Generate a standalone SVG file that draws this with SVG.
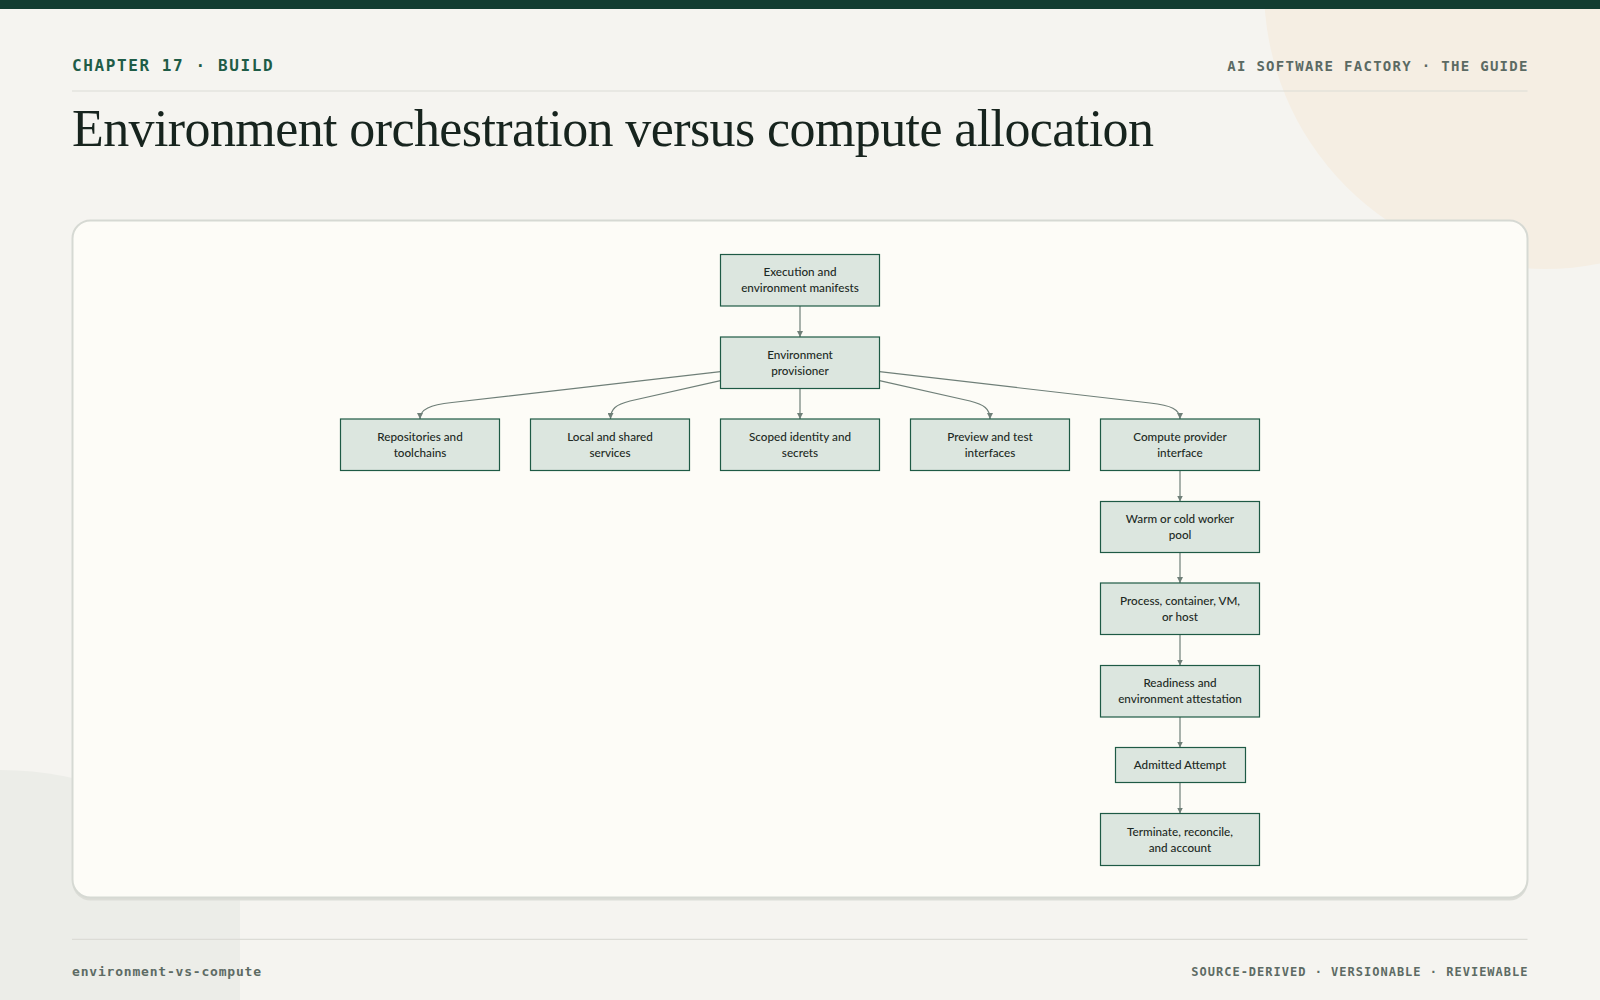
<svg xmlns="http://www.w3.org/2000/svg" width="1600" height="1000" viewBox="0 0 1600 1000">
  <defs>
    <style>
      .node rect { fill: #dce6df; stroke: #1e5a45; stroke-width: 1.2; }
      .node text { font-family: Lato, "Noto Sans", sans-serif; font-size: 11.7px; font-weight: 500; fill: #1d2a24; text-anchor: middle; }
      .edge { fill: none; stroke: #6f7f78; stroke-width: 1.2; marker-end: url(#arrow); }
      .mono { font-family: "DejaVu Sans Mono", "Liberation Mono", monospace; font-weight: 700; }
    </style>
    <marker id="arrow" viewBox="0 0 10 10" refX="10" refY="5" markerWidth="6" markerHeight="6" markerUnits="userSpaceOnUse" orient="auto">
      <path d="M0,0 L10,5 L0,10 z" fill="#6f7f78"/>
    </marker>
    <clipPath id="leftclip"><rect x="0" y="0" width="240" height="1000"/></clipPath>
  </defs>

  <!-- background -->
  <rect x="0" y="0" width="1600" height="1000" fill="#f5f4f0"/>
  <circle cx="1545" cy="-12" r="281" fill="#f5eee3"/>
  <circle cx="0" cy="1100" r="330" fill="#ecede8" clip-path="url(#leftclip)"/>
  <rect x="0" y="0" width="1600" height="9" fill="#133d31"/>

  <!-- header -->
  <text class="mono" x="72" y="71" font-size="16" letter-spacing="1.6" fill="#1f5c47">CHAPTER 17 · BUILD</text>
  <text class="mono" x="1528.8" y="71" font-size="14" letter-spacing="1.3" fill="#5b6a63" text-anchor="end">AI SOFTWARE FACTORY · THE GUIDE</text>
  <line x1="72" y1="91" x2="1527.5" y2="91" stroke="#dcdcd6" stroke-width="1.2"/>
  <text x="72" y="145.5" font-family="'Liberation Serif', 'DejaVu Serif', serif" font-size="52" letter-spacing="-0.6" fill="#17241e">Environment orchestration versus compute allocation</text>

  <!-- card -->
  <rect x="72.5" y="222.5" width="1455" height="678" rx="18" fill="#dcddd7"/>
  <rect x="72.5" y="220.5" width="1455" height="677" rx="18" fill="#fdfcf7" stroke="#d6d9d3" stroke-width="2"/>

  <!-- connectors -->
  <g id="connectors">
    <path class="edge" d="M800,306 L800,337"/>
    <path class="edge" d="M800,388.5 L800,419"/>
    <path class="edge" d="M720.5,371.7 L452,402.5 C430,405 420,409 420,419"/>
    <path class="edge" d="M720.5,380.7 L630,401 C616,404.5 610.5,409 610.5,419"/>
    <path class="edge" d="M879.5,380.7 L970,401 C984,404.5 990,409 990,419"/>
    <path class="edge" d="M879.5,371.7 L1150,403 C1171,405.5 1180,409 1180,419"/>
    <path class="edge" d="M1180,470.5 L1180,501.5"/>
    <path class="edge" d="M1180,552.5 L1180,583"/>
    <path class="edge" d="M1180,634.5 L1180,665.5"/>
    <path class="edge" d="M1180,717 L1180,747.5"/>
    <path class="edge" d="M1180,782.5 L1180,813.5"/>
  </g>

  <!-- nodes -->
  <g id="node-manifests" class="node">
    <rect x="720.5" y="254.5" width="159" height="51.5"/>
    <text x="800" y="276.3">Execution and</text>
    <text x="800" y="292.3">environment manifests</text>
  </g>
  <g id="node-provisioner" class="node">
    <rect x="720.5" y="337" width="159" height="51.5"/>
    <text x="800" y="358.8">Environment</text>
    <text x="800" y="374.8">provisioner</text>
  </g>
  <g id="node-repositories" class="node">
    <rect x="340.5" y="419" width="159" height="51.5"/>
    <text x="420" y="440.8">Repositories and</text>
    <text x="420" y="456.8">toolchains</text>
  </g>
  <g id="node-services" class="node">
    <rect x="530.5" y="419" width="159" height="51.5"/>
    <text x="610" y="440.8">Local and shared</text>
    <text x="610" y="456.8">services</text>
  </g>
  <g id="node-identity" class="node">
    <rect x="720.5" y="419" width="159" height="51.5"/>
    <text x="800" y="440.8">Scoped identity and</text>
    <text x="800" y="456.8">secrets</text>
  </g>
  <g id="node-preview" class="node">
    <rect x="910.5" y="419" width="159" height="51.5"/>
    <text x="990" y="440.8">Preview and test</text>
    <text x="990" y="456.8">interfaces</text>
  </g>
  <g id="node-compute" class="node">
    <rect x="1100.5" y="419" width="159" height="51.5"/>
    <text x="1180" y="440.8">Compute provider</text>
    <text x="1180" y="456.8">interface</text>
  </g>
  <g id="node-pool" class="node">
    <rect x="1100.5" y="501.5" width="159" height="51"/>
    <text x="1180" y="523">Warm or cold worker</text>
    <text x="1180" y="539">pool</text>
  </g>
  <g id="node-process" class="node">
    <rect x="1100.5" y="583" width="159" height="51.5"/>
    <text x="1180" y="604.8">Process, container, VM,</text>
    <text x="1180" y="620.8">or host</text>
  </g>
  <g id="node-readiness" class="node">
    <rect x="1100.5" y="665.5" width="159" height="51.5"/>
    <text x="1180" y="687.3">Readiness and</text>
    <text x="1180" y="703.3">environment attestation</text>
  </g>
  <g id="node-admitted" class="node">
    <rect x="1115.5" y="747.5" width="130" height="35"/>
    <text x="1180" y="769">Admitted Attempt</text>
  </g>
  <g id="node-terminate" class="node">
    <rect x="1100.5" y="813.5" width="159" height="52"/>
    <text x="1180" y="835.5">Terminate, reconcile,</text>
    <text x="1180" y="851.5">and account</text>
  </g>

  <!-- footer -->
  <line x1="72" y1="939.3" x2="1527.5" y2="939.3" stroke="#dcdcd6" stroke-width="1.2"/>
  <text class="mono" x="72" y="976" font-size="13" letter-spacing="0.8" fill="#5d6b64">environment-vs-compute</text>
  <text class="mono" x="1528.5" y="976" font-size="12" letter-spacing="1" fill="#5d6b64" text-anchor="end">SOURCE-DERIVED · VERSIONABLE · REVIEWABLE</text>
</svg>
